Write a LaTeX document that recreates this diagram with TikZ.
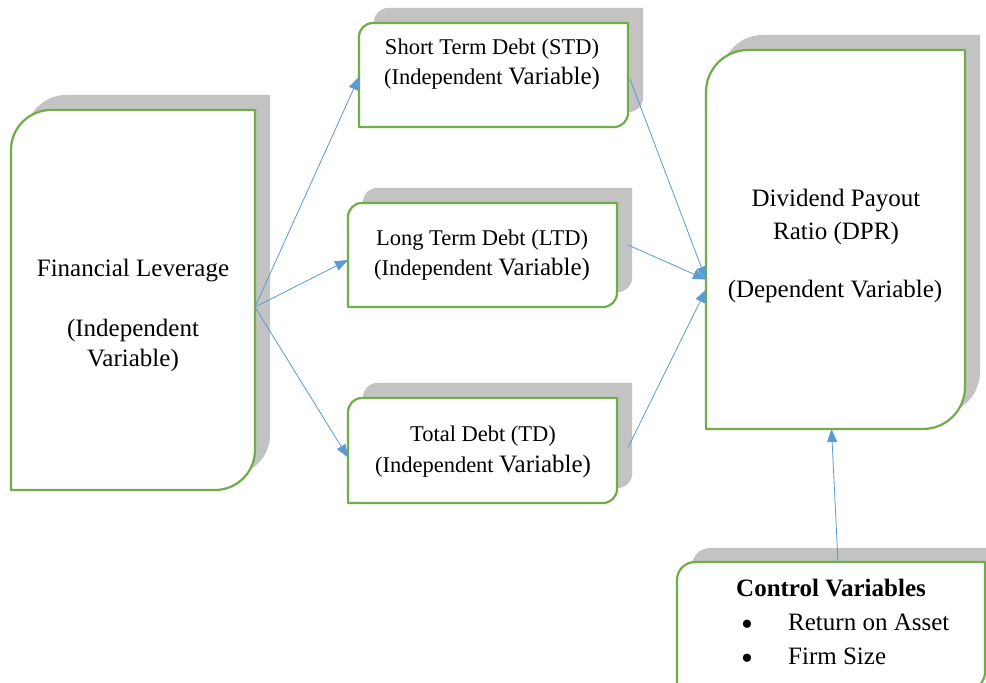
\documentclass[tikz,border=0pt]{standalone}
\usepackage{fontspec}
\setmainfont{Liberation Serif}
\usetikzlibrary{arrows.meta}
\definecolor{boxgreen}{HTML}{70AD47}
\definecolor{arrowblue}{HTML}{5B9BD5}
% #1 node, #2 radius, #3 dx, #4 dy, #5 style
\newcommand\dshape[5]{%
  \path[#5] ([xshift=#3,yshift=#4]#1.south west)
    -- ([xshift=#3,yshift=#4,yshift=-#2]#1.north west)
    arc[start angle=180,end angle=90,radius=#2]
    -- ([xshift=#3,yshift=#4]#1.north east)
    -- ([xshift=#3,yshift=#4,yshift=#2]#1.south east)
    arc[start angle=0,end angle=-90,radius=#2]
    -- cycle;}
\begin{document}
\begin{tikzpicture}[x=1pt,y=1pt,
  frame/.style={draw=none,inner sep=0pt,outer sep=0pt,rectangle},
  shadowfill/.style={fill=gray!47},
  boxline/.style={draw=boxgreen,line width=2.2pt,fill=white,line join=round},
  bigtxt/.style={anchor=base,font=\fontsize{25}{30}\selectfont,inner sep=0pt},
  smalltxt/.style={anchor=base,font=\fontsize{22.5}{27}\selectfont,inner sep=0pt},
  bullettxt/.style={anchor=center,font=\fontsize{34}{34}\selectfont,inner sep=0pt},
  link/.style={draw=arrowblue,line width=0.8pt,-{Triangle[length=13pt,width=10pt]}}]

\useasboundingbox (0,0) rectangle (986,683);
\clip (0,0) rectangle (986,683);
\fill[white] (0,0) rectangle (986,683);

% frames
\node[frame,minimum width=244pt,minimum height=380pt] (fl) at (133,383) {};
\node[frame,minimum width=269pt,minimum height=104pt] (std) at (493.5,608) {};
\node[frame,minimum width=269pt,minimum height=104pt] (ltd) at (482.5,428) {};
\node[frame,minimum width=269pt,minimum height=105pt] (td) at (482.5,232.5) {};
\node[frame,minimum width=259pt,minimum height=379pt] (dpr) at (835.5,443.5) {};
\node[frame,minimum width=308pt,minimum height=128pt] (ctl) at (831,57) {};

% shadows
\dshape{fl}{40pt}{15pt}{15pt}{shadowfill}
\dshape{std}{14pt}{15pt}{15pt}{shadowfill}
\dshape{ltd}{14pt}{15pt}{15pt}{shadowfill}
\dshape{td}{14pt}{15pt}{15pt}{shadowfill}
\dshape{dpr}{42pt}{15pt}{15pt}{shadowfill}
\dshape{ctl}{18pt}{15pt}{14pt}{shadowfill}

% boxes
\dshape{fl}{40pt}{0pt}{0pt}{boxline}
\dshape{std}{14pt}{0pt}{0pt}{boxline}
\dshape{ltd}{14pt}{0pt}{0pt}{boxline}
\dshape{td}{14pt}{0pt}{0pt}{boxline}
\dshape{dpr}{42pt}{0pt}{0pt}{boxline}
\dshape{ctl}{18pt}{0pt}{0pt}{boxline}

% texts
\node[bigtxt] (fl1) at (133,406) {Financial Leverage};
\node[bigtxt] (fl2) at (133,346) {(Independent};
\node[bigtxt] (fl3) at (133,316) {Variable)};

\node[smalltxt] (std1) at (492,628) {Short Term Debt (STD)};
\node[smalltxt] (std2) at (492,598) {(Independent {\fontsize{25}{25}\selectfont Variable)}};

\node[smalltxt] (ltd1) at (482,437) {Long Term Debt (LTD)};
\node[smalltxt] (ltd2) at (482,407) {(Independent {\fontsize{25}{25}\selectfont Variable)}};

\node[smalltxt] (td1) at (483,241) {Total Debt (TD)};
\node[smalltxt] (td2) at (483,210) {(Independent {\fontsize{25}{25}\selectfont Variable)}};

\node[bigtxt] (dpr1) at (836,476) {Dividend Payout};
\node[bigtxt] (dpr2) at (836,443) {Ratio (DPR)};
\node[bigtxt] (dpr3) at (835,385) {(Dependent Variable)};

\node[bigtxt,font=\fontsize{25}{30}\selectfont\bfseries] (ctl1) at (831,86) {Control Variables};
\node[bullettxt] (b1) at (747,55.5) {•};
\node[bigtxt,anchor=base west] (ret) at (788,52) {Return on Asset};
\node[bullettxt] (b2) at (747,21.5) {•};
\node[bigtxt,anchor=base west] (firm) at (788,18) {Firm Size};

% connectors
\draw[link] ([yshift=-7pt]fl.east) -- ([yshift=-2pt]std.west);
\draw[link] ([yshift=-7pt]fl.east) -- ([yshift=-5pt]ltd.west);
\draw[link] ([yshift=-7pt]fl.east) -- ([yshift=-7pt]td.west);
\draw[link] ([xshift=2pt,yshift=-4pt]std.east) -- ([yshift=-40pt]dpr.west);
\draw[link] ([xshift=11pt,yshift=10pt]ltd.east) -- ([yshift=-40pt]dpr.west);
\draw[link] ([xshift=11pt,yshift=3pt]td.east) -- ([yshift=-50pt]dpr.west);
\draw[link] ([xshift=7pt]ctl.north) -- ([xshift=-4pt]dpr.south);
\end{tikzpicture}
\end{document}
